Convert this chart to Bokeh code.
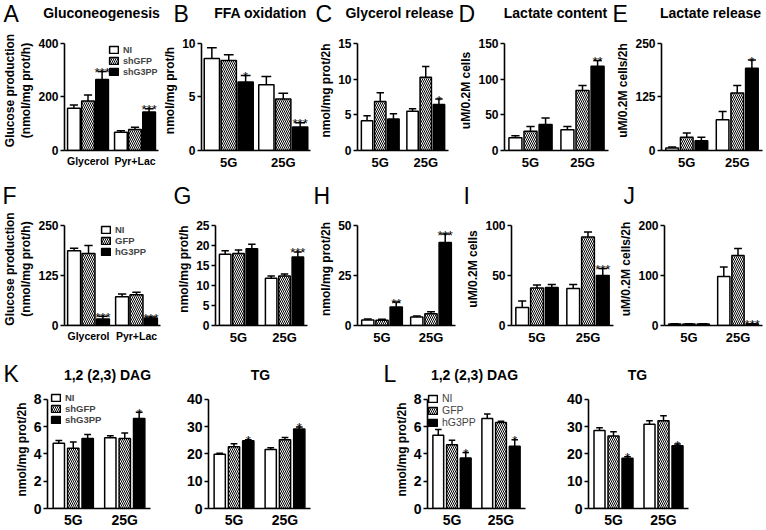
from bokeh.plotting import figure
from bokeh.models import (FactorRange, Range1d, FixedTicker, Label, Legend,
                          LegendItem, ColumnDataSource, Title)
from bokeh.transform import dodge
from bokeh.layouts import row, column
from bokeh.embed import file_html
from bokeh.resources import INLINE
from bokeh.core.properties import value

FONT = "Liberation Sans"

# ---------------- data ----------------
grp_sub = ["Glycerol", "Pyr+Lac"]
grp_glu = ["5G", "25G"]
ser_sh = ["NI", "shGFP", "shG3PP"]
ser_h = ["NI", "GFP", "hG3PP"]

# A  Gluconeogenesis (shRNA)
A_mean = [[158, 68], [185, 78], [265, 144]]
A_err = [[12, 6], [22, 9], [30, 12]]
A_star = [["", ""], ["", ""], ["***", "***"]]
A_ticks = [0, 200, 400]

# B  FFA oxidation
B_mean = [[8.6, 6.15], [8.4, 4.8], [6.4, 2.2]]
B_err = [[1.0, 0.75], [0.55, 0.55], [0.6, 0.4]]
B_star = [["", ""], ["", ""], ["*", "***"]]
B_ticks = [0, 5, 10]

# C  Glycerol release
C_mean = [[4.15, 5.5], [6.85, 10.25], [4.4, 6.45]]
C_err = [[0.7, 0.35], [1.25, 1.5], [0.75, 0.75]]
C_star = [["", ""], ["", ""], ["", "*"]]
C_ticks = [0, 5, 10, 15]

# D  Lactate content
D_mean = [[18, 29], [27, 84], [36.5, 118]]
D_err = [[2.5, 4.5], [6.5, 7], [9, 8]]
D_star = [["", ""], ["", ""], ["", "**"]]
D_ticks = [0, 50, 100, 150]

# E  Lactate release
E_mean = [[6, 72], [31, 134], [23, 192]]
E_err = [[2, 19], [10, 18], [8, 19]]
E_star = [["", ""], ["", ""], ["", "*"]]
E_ticks = [0, 125, 250]

# F  Gluconeogenesis (overexpression)
F_mean = [[187, 72], [180, 77], [16, 18]]
F_err = [[6, 7], [20, 6], [7, 3]]
F_star = [["", ""], ["", ""], ["***", "***"]]
F_ticks = [0, 125, 250]

# G
G_mean = [[17.8, 11.8], [18.0, 12.4], [19.2, 17.1]]
G_err = [[0.9, 0.6], [0.9, 0.5], [1.1, 1.3]]
G_star = [["", ""], ["", ""], ["", "***"]]
G_ticks = [0, 5, 10, 15, 20, 25]

# H
H_mean = [[2.8, 4.2], [2.6, 5.9], [9.3, 41.5]]
H_err = [[0.5, 0.6], [0.5, 1.0], [2.4, 4.2]]
H_star = [["", ""], ["", ""], ["**", "***"]]
H_ticks = [0, 25, 50]

# I
I_mean = [[18, 37], [37.5, 88.5], [38, 50]]
I_err = [[6.5, 4], [3, 5], [3, 7]]
I_star = [["", ""], ["", ""], ["", "***"]]
I_ticks = [0, 50, 100]

# J
J_mean = [[3, 98], [3, 140], [3, 3]]
J_err = [[0.5, 19], [0.5, 14], [0.5, 0.5]]
J_star = [["", ""], ["", ""], ["", "***"]]
J_ticks = [0, 100, 200]

# K  DAG / TG (shRNA)
K1_mean = [[4.78, 5.18], [4.42, 5.13], [5.13, 6.6]]
K1_err = [[0.2, 0.15], [0.45, 0.4], [0.3, 0.45]]
K1_star = [["", ""], ["", ""], ["", "*"]]
K2_mean = [[19.9, 21.6], [22.6, 25.2], [24.8, 29.1]]
K2_err = [[0.35, 0.7], [1.1, 0.8], [0.4, 0.8]]
K2_star = [["", ""], ["", ""], ["*", "*"]]

# L  DAG / TG (overexpression)
L1_mean = [[5.37, 6.6], [4.68, 6.3], [3.7, 4.56]]
L1_err = [[0.42, 0.32], [0.32, 0.1], [0.4, 0.48]]
L1_star = [["", ""], ["", ""], ["*", "*"]]
L2_mean = [[28.6, 30.9], [26.6, 32.2], [18.4, 23.0]]
L2_err = [[1.0, 1.3], [1.5, 1.8], [0.6, 0.6]]
L2_star = [["", ""], ["", ""], ["*", "*"]]

DAG_ticks = [0, 2, 4, 6, 8]
TG_ticks = [0, 10, 20, 30, 40]

# ---------------- styling helpers ----------------
STYLES = [
    dict(fill_color="white"),
    dict(fill_color="white", hatch_pattern="\\", hatch_color="black",
         hatch_scale=4, hatch_weight=1),
    dict(fill_color="black"),
]


def blank(x0, x1, y0, y1):
    """Text-only header strip whose data coordinates equal page pixels."""
    p = figure(width=x1 - x0, height=y1 - y0,
               x_range=Range1d(x0, x1), y_range=Range1d(y1, y0),
               x_axis_type=None, y_axis_type=None,
               output_backend="svg", toolbar_location=None,
               title_location=None,
               min_border_left=0, min_border_right=0,
               min_border_top=0, min_border_bottom=0)
    p.outline_line_color = None
    p.background_fill_color = "white"
    p.border_fill_color = "white"
    return p


def text(p, x, y, t, **kw):
    p.add_layout(Label(x=x, y=y, text=t, text_font=FONT,
                       text_color="black", **kw))


def letter(p, t, x, y, fs="23px"):
    text(p, x, y, t, text_font_size=fs, text_align="left",
         text_baseline="middle")


def title(p, t, x, y):
    text(p, x, y, t, text_font_size="14px", text_font_style="bold",
         text_align="center", text_baseline="middle")


def panel(fx, fy, gx, tick_top, gy1, groups, names, means, errs, stars,
          yticks, ylabel=None, ylabel2=None, bw=0.25, off=0.29,
          tick_fs="12px", xl_fs="13px", xl_standoff=4, legend=None,
          legend_fs="9px", legend_bold=True):
    fx0, fx1 = fx
    fy0, fy1 = fy
    gx0, gx1 = gx
    top = yticks[-1]
    y_end = top * (gy1 - fy0) / (gy1 - tick_top)
    p = figure(width=fx1 - fx0, height=fy1 - fy0,
               x_range=FactorRange(factors=list(groups)),
               y_range=Range1d(0, y_end),
               output_backend="svg", toolbar_location=None,
               title_location=None,
               min_border_left=gx0 - fx0, min_border_right=fx1 - gx1,
               min_border_top=0, min_border_bottom=fy1 - gy1)
    p.outline_line_color = None
    p.xgrid.visible = False
    p.ygrid.visible = False
    p.background_fill_color = "white"
    p.border_fill_color = "white"

    ya = p.yaxis[0]
    ya.ticker = FixedTicker(ticks=list(yticks))
    ya.bounds = (0, top)
    ya.axis_line_width = 1.6
    ya.major_tick_line_width = 1.6
    ya.major_tick_out = 4
    ya.major_tick_in = 0
    ya.minor_tick_out = 0
    ya.minor_tick_line_color = None
    ya.major_label_standoff = 2
    ya.major_label_text_font = FONT
    ya.major_label_text_font_style = "bold"
    ya.major_label_text_font_size = tick_fs
    ya.major_label_text_color = "black"
    if ylabel:
        ya.axis_label = ylabel
        ya.axis_label_standoff = 2
        ya.axis_label_text_font = FONT
        ya.axis_label_text_font_style = "bold"
        ya.axis_label_text_font_size = "12px"
        ya.axis_label_text_color = "black"
    else:
        ya.axis_label_standoff = 0
        ya.axis_label_text_font_size = "0px"
    if ylabel2:
        p.add_layout(Title(text=ylabel2, align="center", standoff=0,
                           text_font=FONT, text_font_style="bold",
                           text_font_size="12px", text_color="black"),
                     "left")

    xa = p.xaxis[0]
    xa.axis_line_width = 1.6
    xa.major_tick_line_color = None
    xa.minor_tick_line_color = None
    xa.major_tick_out = 0
    xa.major_tick_in = 0
    xa.minor_tick_out = 0
    xa.minor_tick_in = 0
    xa.major_label_standoff = xl_standoff
    xa.major_label_text_font = FONT
    xa.major_label_text_font_style = "bold"
    xa.major_label_text_font_size = xl_fs
    xa.major_label_text_color = "black"
    xa.axis_label_standoff = 0
    xa.axis_label_text_font_size = "0px"

    unit_px = (gx1 - gx0) / len(groups)
    cap = max(5, 0.6 * bw * unit_px)
    rends = []
    for i in range(3):
        src = ColumnDataSource(dict(
            grp=list(groups), top=means[i],
            up=[m + e for m, e in zip(means[i], errs[i])],
            star=stars[i]))
        xo = dodge("grp", (i - 1) * off, range=p.x_range)
        r = p.vbar(x=xo, top="top", bottom=0, width=bw, source=src,
                   line_color="black", line_width=1.5, **STYLES[i])
        rends.append(r)
        p.segment(x0=xo, y0="top", x1=xo, y1="up", source=src,
                  line_color="black", line_width=1.5)
        p.scatter(x=xo, y="up", source=src, marker="dash", size=cap,
                  line_color="black", line_width=1.5)
        p.text(x=xo, y="up", text="star", source=src,
               text_font=value(FONT), text_font_size="13px",
               text_align="center", text_baseline="alphabetic",
               y_offset=1, text_color="black")

    if legend:
        lgx, lgy = legend
        items = [LegendItem(label=n, renderers=[r]) for n, r in zip(names, rends)]
        leg = Legend(items=items, location=(lgx - gx0, gy1 - lgy),
                     orientation="vertical", glyph_width=11, glyph_height=9,
                     label_height=11, spacing=0, padding=0, margin=0,
                     label_standoff=4, border_line_color=None,
                     background_fill_alpha=0,
                     label_text_font=FONT, label_text_font_size=legend_fs,
                     label_text_font_style="bold" if legend_bold else "normal",
                     label_text_baseline="middle")
        p.add_layout(leg)
    return p


# ---------------- row 1 ----------------
H1 = blank(0, 766, 0, 30)
for t, x in [("A", 3), ("B", 173), ("C", 315), ("D", 458), ("E", 612)]:
    letter(H1, t, x, 13)
for t, x in [("Gluconeogenesis", 101), ("FFA oxidation", 260),
             ("Glycerol release", 399), ("Lactate content", 555),
             ("Lactate release", 710)]:
    title(H1, t, x, 12)

Y1 = (30, 172)
T1, B1 = 43, 151
r1 = [
    panel((0, 160), Y1, (57, 158), T1, B1, grp_sub, ser_sh, A_mean, A_err,
          A_star, A_ticks, ylabel="(nmol/mg prot/h)",
          ylabel2="Glucose production", bw=0.27, off=0.3, xl_fs="10.5px",
          legend=(101, 78)),
    panel((160, 316), Y1, (194, 310), T1, B1, grp_glu, ser_sh, B_mean, B_err,
          B_star, B_ticks, ylabel="nmol/mg prot/h", bw=0.28, off=0.31),
    panel((316, 456), Y1, (350, 448), T1, B1, grp_glu, ser_sh, C_mean, C_err,
          C_star, C_ticks, ylabel="nmol/mg prot/2h"),
    panel((456, 613), Y1, (498, 608), T1, B1, grp_glu, ser_sh, D_mean, D_err,
          D_star, D_ticks, ylabel="uM/0.2M cells"),
    panel((613, 766), Y1, (655, 762), T1, B1, grp_glu, ser_sh, E_mean, E_err,
          E_star, E_ticks, ylabel="uM/0.2M cells/2h"),
]

# ---------------- row 2 ----------------
H2 = blank(0, 766, 172, 212)
for t, x in [("F", 2), ("G", 173), ("H", 313), ("I", 463), ("J", 623)]:
    letter(H2, t, x, 195)

Y2 = (212, 348)
T2, B2 = 225, 325
r2 = [
    panel((0, 174), Y2, (57, 160), T2, B2, grp_sub, ser_h, F_mean, F_err,
          F_star, F_ticks, ylabel="(nmol/mg prot/h)",
          ylabel2="Glucose production", bw=0.27, off=0.3, xl_fs="10.5px",
          legend=(93, 257), legend_fs="9.5px"),
    panel((174, 316), Y2, (208, 307), T2, B2, grp_glu, ser_h, G_mean, G_err,
          G_star, G_ticks, ylabel="nmol/mg prot/h"),
    panel((316, 463), Y2, (350, 455), T2, B2, grp_glu, ser_h, H_mean, H_err,
          H_star, H_ticks, ylabel="nmol/mg prot/2h"),
    panel((463, 616), Y2, (505, 613), T2, B2, grp_glu, ser_h, I_mean, I_err,
          I_star, I_ticks, ylabel="uM/0.2M cells"),
    panel((616, 766), Y2, (658, 762), T2, B2, grp_glu, ser_h, J_mean, J_err,
          J_star, J_ticks, ylabel="uM/0.2M cells/2h"),
]

# ---------------- row 3 ----------------
H3 = blank(0, 766, 348, 390)
letter(H3, "K", 3, 373)
letter(H3, "L", 383, 373)
for t, x in [("1,2 (2,3) DAG", 107), ("TG", 260), ("1,2 (2,3) DAG", 474), ("TG", 637)]:
    title(H3, t, x, 374)

Y3 = (390, 530)
T3, B3 = 399, 510
r3 = [
    panel((0, 175), Y3, (47, 150), T3, B3, grp_glu, ser_sh, K1_mean, K1_err,
          K1_star, DAG_ticks, ylabel="nmol/mg prot/2h", bw=0.22, off=0.28,
          tick_fs="14px", xl_fs="14px", xl_standoff=3, legend=(50, 427),
          legend_fs="9.5px"),
    panel((175, 383), Y3, (208, 310), T3, B3, grp_glu, ser_sh, K2_mean, K2_err,
          K2_star, TG_ticks, bw=0.22, off=0.28, tick_fs="14px", xl_fs="14px",
          xl_standoff=3),
    panel((383, 558), Y3, (427, 525), T3, B3, grp_glu, ser_h, L1_mean, L1_err,
          L1_star, DAG_ticks, ylabel="nmol/mg prot/2h", bw=0.22, off=0.28,
          tick_fs="14px", xl_fs="14px", xl_standoff=3, legend=(427, 430),
          legend_fs="10.5px", legend_bold=False),
    panel((558, 766), Y3, (588, 688), T3, B3, grp_glu, ser_h, L2_mean, L2_err,
          L2_star, TG_ticks, bw=0.22, off=0.28, tick_fs="14px", xl_fs="14px",
          xl_standoff=3),
]

layout = column(H1, row(*r1), H2, row(*r2), H3, row(*r3))

open("out.html", "w").write(file_html(layout, INLINE))
